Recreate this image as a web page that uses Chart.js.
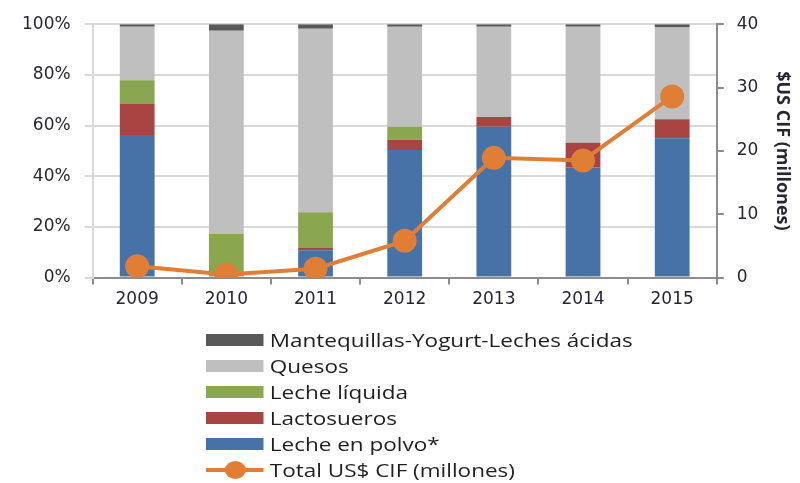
<!DOCTYPE html>
<html>
<head>
<meta charset="utf-8">
<script src="https://cdn.jsdelivr.net/npm/chart.js@4.4.1/dist/chart.umd.min.js"></script>
<style>
    html, body { margin: 0; padding: 0; background: #fff; }
    #wrap { position: relative; width: 800px; height: 483px; }
    #legend {
        position: absolute; left: 206px; top: 327px;
        font-family: 'Open Sans', sans-serif; font-size: 18px; color: #1f1f1f;
        transform: scaleX(1.25); transform-origin: 0 0; white-space: nowrap;
    }
    #legend .row { height: 26px; display: flex; align-items: center; }
    #legend .box { width: 46px; height: 12px; margin-right: 5px; }
    #legend .ln { width: 46px; height: 12px; margin-right: 5px; position: relative; }
    #legend .ln:before { content: ''; position: absolute; left: 0; right: 0; top: 4px; height: 4px; background: #e07e36; }
    #legend .ln:after { content: ''; position: absolute; left: 15px; top: -3px; width: 17px; height: 18px; border-radius: 50%; background: #e07e36; }
</style>
</head>
<body>
<div id="wrap">
    <canvas id="chart"></canvas>
    <div id="legend"></div>
</div>
<script>
    // Years
    var years = ['2009', '2010', '2011', '2012', '2013', '2014', '2015'];

    // Share of imports (%), stacked bottom to top
    var lechePolvo   = [56.3, 0.0, 10.8, 50.4, 59.5, 43.4, 55.0];
    var lactosueros  = [12.4, 0.0, 0.9, 4.0, 3.9, 9.8, 7.5];
    var lecheLiquida = [9.2, 17.2, 14.1, 5.1, 0.0, 0.0, 0.0];
    var quesos       = [21.1, 80.2, 72.4, 39.5, 35.6, 45.8, 36.2];
    var mantequillas = [1.0, 2.6, 1.8, 1.0, 1.0, 1.0, 1.3];

    // Total US$ CIF (millones)
    var totalCif = [1.8, 0.5, 1.4, 5.8, 18.9, 18.5, 28.6];

    var pctTicks = [0, 20, 40, 60, 80, 100];
    var cifTicks = [0, 10, 20, 30, 40];

    var textColor = '#262630';
    var gridColor = '#d9d9d9';
    var axisColor = '#8c8c8c';
    var font = { family: "'DejaVu Sans', sans-serif", size: 17 };

    function barSet(label, data, color) {
        return {
            type: 'bar', label: label, data: data,
            backgroundColor: color, yAxisID: 'y', stack: 'pct', order: 1,
            barPercentage: 0.39, categoryPercentage: 1
        };
    }

    var datasets = [
        barSet('Leche en polvo*', lechePolvo, '#4672a8'),
        barSet('Lactosueros', lactosueros, '#a84542'),
        barSet('Leche líquida', lecheLiquida, '#8aa64f'),
        barSet('Quesos', quesos, '#bfbfbf'),
        barSet('Mantequillas-Yogurt-Leches ácidas', mantequillas, '#595959'),
        {
            type: 'line', label: 'Total US$ CIF (millones)', data: totalCif,
            borderColor: '#e07e36', backgroundColor: '#e07e36',
            borderWidth: 4, pointRadius: 10, pointHoverRadius: 10,
            yAxisID: 'y1', order: 0, tension: 0
        }
    ];

    new Chart(document.getElementById('chart'), {
        data: { labels: years, datasets: datasets },
        options: {
            responsive: true,
            maintainAspectRatio: false,
            animation: false,
            layout: { padding: { left: 8, right: 3, top: 14, bottom: 168 } },
            plugins: { legend: { display: false }, tooltip: { enabled: false } },
            scales: {
                x: {
                    stacked: true,
                    grid: { drawOnChartArea: false, offset: true, tickLength: 7, color: axisColor, lineWidth: 2 },
                    border: { color: axisColor, width: 2 },
                    ticks: { color: textColor, font: font, padding: 5 }
                },
                y: {
                    stacked: true, min: 0, max: 100,
                    afterBuildTicks: function(axis) { axis.ticks = pctTicks.map(function(v) { return { value: v }; }); },
                    grid: { color: gridColor, lineWidth: 2, tickLength: 8 },
                    border: { color: gridColor, width: 2 },
                    ticks: { color: textColor, font: font, padding: 14, callback: function(v) { return v + '%'; } }
                },
                y1: {
                    position: 'right', min: 0, max: 40,
                    afterBuildTicks: function(axis) { axis.ticks = cifTicks.map(function(v) { return { value: v }; }); },
                    grid: { drawOnChartArea: false, tickLength: 7, color: axisColor, lineWidth: 2 },
                    border: { color: axisColor, width: 2 },
                    ticks: { color: textColor, font: font, padding: 13 },
                    title: { display: true, text: '$US CIF (millones)', color: textColor,
                             font: { family: "'Open Sans', sans-serif", size: 18, weight: 'bold' }, padding: { top: 4, bottom: 0 } }
                }
            }
        }
    });

    // Legend: top to bottom like the original
    var legend = document.getElementById('legend');
    [4, 3, 2, 1, 0, 5].forEach(function(i) {
        var ds = datasets[i];
        var row = document.createElement('div');
        row.className = 'row';
        var sw = document.createElement('span');
        if (ds.type === 'line') {
            sw.className = 'ln';
        } else {
            sw.className = 'box';
            sw.style.background = ds.backgroundColor;
        }
        row.appendChild(sw);
        row.appendChild(document.createTextNode(ds.label));
        legend.appendChild(row);
    });
</script>
</body>
</html>
